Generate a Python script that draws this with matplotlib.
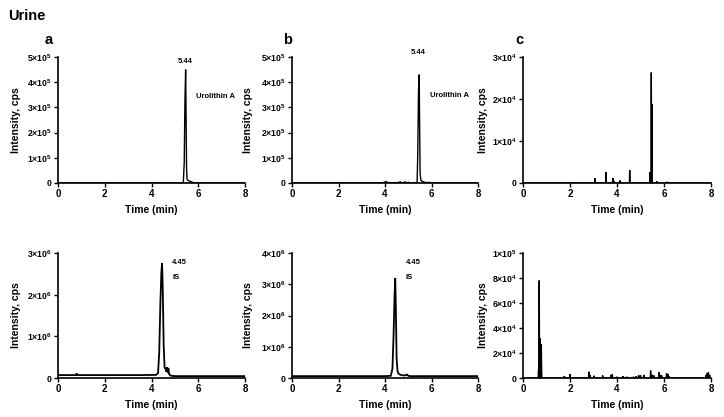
import matplotlib
matplotlib.use("Agg")
import matplotlib.pyplot as plt
from matplotlib.ticker import FixedLocator, FixedFormatter

plt.rcParams['font.family'] = ['Liberation Sans', 'DejaVu Sans']
plt.rcParams['font.weight'] = 'bold'
plt.rcParams['mathtext.fontset'] = 'custom'
plt.rcParams['mathtext.rm'] = 'Liberation Sans:bold'
plt.rcParams['mathtext.bf'] = 'Liberation Sans:bold'
plt.rcParams['mathtext.it'] = 'Liberation Sans:bold'

# ---------------- data ----------------
x_ticks = [0, 2, 4, 6, 8]

# a, top: Urolithin A
a_top_t = [0, 1.0, 2.0, 3.0, 4.0, 5.0, 5.36, 5.40, 5.43, 5.46, 5.48, 5.50, 5.52, 5.55, 5.58, 5.62, 5.66, 5.70, 5.75, 5.80, 6.0, 7.0, 8.0]
a_top_i = [0, 0, 0, 0, 0, 0, 0, 8e4, 3.2e5, 4.5e5, 2.6e5, 6e4, 1.6e4, 1.2e4, 9e3, 8e3, 6e3, 5e3, 3e3, 1e3, 0, 0, 0]

# b, top: Urolithin A
b_top_t = [0, 3.5, 3.9, 4.0, 4.05, 4.1, 4.3, 4.6, 4.65, 4.7, 4.8, 4.85, 4.95, 5.0, 5.05, 5.38, 5.41, 5.44, 5.47, 5.49, 5.51, 5.54, 5.58, 5.62, 5.7, 5.85, 5.9, 5.95, 6.0, 8.0]
b_top_i = [0, 0, 1e3, 4e3, 6e3, 2e3, 1e3, 2e3, 5e3, 1e3, 1e3, 4e3, 1e3, 3e3, 0, 0, 1.2e5, 3.6e5, 4.3e5, 2.2e5, 4e4, 1.2e4, 8e3, 5e3, 3e3, 1e3, 3e3, 0, 0, 0]

# c, top: blank urine, Urolithin A channel (spikes)
c_top_spike_t = [3.06, 3.53, 3.82, 3.88, 4.13, 4.54, 5.40, 5.46, 5.49, 5.69, 6.13]
c_top_spike_i = [1.1e3, 2.6e3, 1.2e3, 4e2, 6e2, 3.1e3, 2.6e3, 2.63e4, 1.87e4, 4e2, 3e2]

# a, bottom: internal standard
a_bot_t = [0, 0.5, 0.78, 0.8, 0.82, 1.5, 2.5, 3.5, 4.2, 4.28, 4.33, 4.38, 4.42, 4.45, 4.48, 4.52, 4.56, 4.60, 4.64, 4.67, 4.70, 4.72, 4.75, 4.80, 4.9, 5.0, 6.0, 7.0, 8.0]
a_bot_i = [7e4, 7e4, 7e4, 1.1e5, 7e4, 7e4, 7e4, 7e4, 7.5e4, 1.2e5, 6e5, 1.8e6, 2.5e6, 2.75e6, 2.2e6, 8e5, 2.5e5, 2.2e5, 1.5e5, 2.6e5, 1.2e5, 2.4e5, 1.0e5, 6e4, 5e4, 4.5e4, 4.5e4, 4.5e4, 4.5e4]

# b, bottom: internal standard
b_bot_t = [0, 1.0, 2.0, 3.0, 4.0, 4.25, 4.32, 4.37, 4.41, 4.44, 4.47, 4.50, 4.54, 4.58, 4.64, 4.72, 4.85, 4.95, 5.0, 5.1, 6.0, 7.0, 8.0]
b_bot_i = [6e4, 6e4, 6e4, 6e4, 6e4, 7e4, 3e5, 1.4e6, 2.6e6, 3.2e6, 2.1e6, 6e5, 2.2e5, 1.4e5, 1.1e5, 9e4, 8e4, 1.1e5, 7e4, 6e4, 6e4, 6e4, 6e4]

# c, bottom: blank urine, IS channel (spikes)
c_bot_spike_t = [0.66, 0.69, 0.72, 0.75, 0.78, 1.76, 2.0, 2.81, 2.86, 3.02, 3.39, 3.75, 3.80, 3.99, 4.26, 4.41, 4.70, 4.82, 4.92, 5.00, 5.14, 5.43, 5.50, 5.57, 5.79, 5.84, 5.90, 6.11, 6.17, 6.22, 7.78, 7.84, 7.89, 7.94]
c_bot_spike_i = [6e3, 7.8e4, 3.2e4, 2.7e4, 2.7e4, 1.6e3, 3e3, 5e3, 2e3, 1.8e3, 2e3, 2.5e3, 3e3, 1e3, 1.5e3, 1e3, 1e3, 1.5e3, 2e3, 2.2e3, 2.5e3, 5.9e3, 2.5e3, 2e3, 4.5e3, 2.5e3, 2e3, 3.8e3, 3e3, 1.5e3, 2e3, 4e3, 4.5e3, 2.5e3]

# axes settings
y_max = [[5e5, 5e5, 3e4], [3e6, 4e6, 1e5]]
y_ticks = [[[0, 1e5, 2e5, 3e5, 4e5, 5e5], [0, 1e5, 2e5, 3e5, 4e5, 5e5], [0, 1e4, 2e4, 3e4]],
           [[0, 1e6, 2e6, 3e6], [0, 1e6, 2e6, 3e6, 4e6], [0, 2e4, 4e4, 6e4, 8e4, 1e5]]]
y_tick_labels = [[["0", "1×10^5", "2×10^5", "3×10^5", "4×10^5", "5×10^5"],
                  ["0", "1×10^5", "2×10^5", "3×10^5", "4×10^5", "5×10^5"],
                  ["0", "1×10^4", "2×10^4", "3×10^4"]],
                 [["0", "1×10^6", "2×10^6", "3×10^6"],
                  ["0", "1×10^6", "2×10^6", "3×10^6", "4×10^6"],
                  ["0", "2×10^4", "4×10^4", "6×10^4", "8×10^4", "1×10^5"]]]


def spikes_to_trace(ts, hs, half=0.012):
    tt, ii = [0.0], [0.0]
    for t, h in zip(ts, hs):
        tt += [t - half, t, t + half]
        ii += [0.0, h, 0.0]
    tt.append(8.0)
    ii.append(0.0)
    return tt, ii


def fmt(lbl):
    if "×" in lbl:
        m, e = lbl.split("×10^")
        return r"$\mathbf{" + m + r"{\times}10^{" + e + r"}}$"
    return lbl


c_top_t, c_top_i = spikes_to_trace(c_top_spike_t, c_top_spike_i)
c_bot_t, c_bot_i = spikes_to_trace(c_bot_spike_t, c_bot_spike_i, half=0.015)

traces = [[(a_top_t, a_top_i), (b_top_t, b_top_i), (c_top_t, c_top_i)],
          [(a_bot_t, a_bot_i), (b_bot_t, b_bot_i), (c_bot_t, c_bot_i)]]

fig = plt.figure(figsize=(7.24, 4.17), dpi=100)
W, H = 724.0, 417.0
lefts = [58, 292, 523]
widths = [187, 186, 188]
tops = [57, 253]
bottoms = [183, 378]
label_x = [-0.198, -0.208, -0.188]
line_w = [[1.0, 1.0, 1.0], [1.3, 1.3, 1.0]]

axes = []
for r in range(2):
    for c in range(3):
        ax = fig.add_axes([lefts[c] / W, 1 - bottoms[r] / H, widths[c] / W, (bottoms[r] - tops[r]) / H])
        t, i = traces[r][c]
        ax.plot(t, i, color='black', lw=line_w[r][c], solid_joinstyle='miter')
        if c == 2:
            ax.fill_between(t, i, 0, color='black', lw=0)
        ax.set_xlim(0, 8)
        ax.set_ylim(0, y_max[r][c])
        ax.xaxis.set_major_locator(FixedLocator(x_ticks))
        ax.set_xticklabels([str(v) for v in x_ticks], fontsize=7, fontweight='bold')
        ax.yaxis.set_major_locator(FixedLocator(y_ticks[r][c]))
        ax.yaxis.set_major_formatter(FixedFormatter([fmt(s) for s in y_tick_labels[r][c]]))
        for lab in ax.get_yticklabels():
            lab.set_fontsize(6.3)
        ax.spines['top'].set_visible(False)
        ax.spines['right'].set_visible(False)
        for s in ('left', 'bottom'):
            ax.spines[s].set_linewidth(1.2)
        ax.tick_params(axis='both', direction='out', length=3, width=1.0, pad=1.5)
        ax.set_xlabel("Time (min)", fontsize=7.5, fontweight='bold')
        ax.set_ylabel("Intensity, cps", fontsize=7.5, fontweight='bold')
        ax.xaxis.set_label_coords(0.5, -0.175)
        ax.yaxis.set_label_coords(label_x[c], 0.5)
        axes.append(ax)

# annotations
axes[0].text(5.44, 4.84e5, "5.44", fontsize=5.5, ha='center', va='center', clip_on=False)
axes[0].text(5.9, 3.45e5, "Urolithin A", fontsize=5.5, ha='left', va='center')
axes[1].text(5.44, 5.16e5, "5.44", fontsize=5.5, ha='center', va='center', clip_on=False)
axes[1].text(5.94, 3.48e5, "Urolithin A", fontsize=5.5, ha='left', va='center')
axes[3].text(4.88, 2.76e6, "4.45", fontsize=5.5, ha='left', va='center')
axes[3].text(4.88, 2.42e6, "IS", fontsize=5.5, ha='left', va='center')
axes[4].text(4.9, 3.68e6, "4.45", fontsize=5.5, ha='left', va='center')
axes[4].text(4.9, 3.23e6, "IS", fontsize=5.5, ha='left', va='center')

fig.text(8 / W, 1 - 16 / H, "Urine", fontsize=10.5, fontweight='bold', ha='left', va='center')
for x, s in [(49, "a"), (288, "b"), (519, "c")]:
    fig.text(x / W, 1 - 40 / H, s, fontsize=10.5, fontweight='bold', ha='center', va='center')

fig.savefig("out.png", dpi=100)
